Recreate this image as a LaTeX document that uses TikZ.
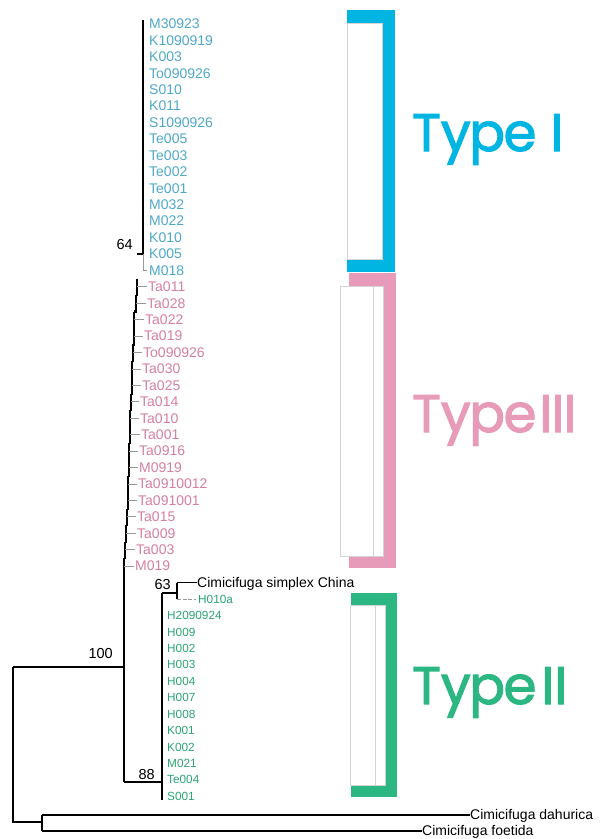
\documentclass[tikz,border=0pt]{standalone}
\usepackage{fontspec}
\setmainfont{Liberation Sans}
\newfontfamily\typefont[FakeBold=2]{Poppins}
\definecolor{tIcol}{RGB}{0,181,226}
\definecolor{tIIIcol}{RGB}{232,155,184}
\definecolor{tIIcol}{RGB}{44,183,130}
\definecolor{tIlab}{RGB}{78,168,200}
\definecolor{tIIIlab}{RGB}{214,126,163}
\definecolor{tIIlab}{RGB}{44,165,115}
\definecolor{boxline}{RGB}{212,212,212}
\newcommand{\typeword}{Ty\kern-1.5pt p\kern-1.5pt e}
\tikzset{
  branch/.style={line width=1.7pt, black},
  spine/.style={line width=2.6pt, black},
  stub/.style={line width=0.9pt, black!40},
  taxon/.style={anchor=base west, inner sep=0pt, font=\fontsize{14}{15}\selectfont},
  gtaxon/.style={anchor=base west, inner sep=0pt, font=\fontsize{11.8}{12}\selectfont, text=tIIlab},
  support/.style={anchor=base east, inner sep=0pt, font=\fontsize{14.5}{15}\selectfont},
  typelabel/.style={anchor=base west, inner sep=0pt, font=\typefont\fontsize{53}{54}\selectfont},
  innerbox/.style={fill=white, draw=boxline, line width=0.7pt},
}
\begin{document}
\begin{tikzpicture}[x=1pt, y=-1pt]
\useasboundingbox (0,0) rectangle (602,839);

% ---- clade brackets ----
\fill[tIcol] (347,10) rectangle (395,272);
\draw[innerbox] (347,23) rectangle (382,259);
\fill[tIIIcol] (349,273) rectangle (396,568);
\draw[innerbox] (340,286) rectangle (373,556);
\draw[innerbox] (373,286) rectangle (383,556);
\fill[tIIcol] (351,593) rectangle (397,797);
\draw[innerbox] (350,605) rectangle (375,785);
\draw[innerbox] (375,605) rectangle (385,785);

\node[typelabel, text=tIcol] (typeI) at (412,151) {\typeword\kern14pt I};
\node[typelabel, text=tIIIcol] (typeIII) at (412,432) {\typeword\kern3pt I\kern-1pt I\kern-1pt I};
\node[typelabel, text=tIIcol] (typeII) at (412,704) {\typeword\kern5pt I\kern0pt I};

% ---- Type I clade: zero-length branches on one vertical ----
\coordinate (bTop) at (143,20);
\coordinate (n64) at (143,254);
\coordinate (n64b) at (143,237);
\draw[branch] (bTop) -- (n64);
\draw[spine] (n64b) -- (n64);
\foreach \name [count=\i from 0] in {M30923,K1090919,K003,To090926,S010,K011,S1090926,Te005,Te003,Te002,Te001,M032,M022,K010,K005,M018}{
  \node[taxon, text=tIlab] (b\i) at (149,{24+16.43*\i+4.8}) {\name};
}
\coordinate (m018a) at (143,270.5);
\coordinate (m018b) at (147,270.5);
\draw[stub] (n64) -- (m018a) -- (m018b);
\node[support] (s64) at (133,249) {64};

% ---- Type III clade: ladder with short branches ----
\coordinate (sp0) at (137,254);
\draw[branch] (n64) -- (sp0);
\foreach \name/\sx/\nx/\lx [count=\i from 16] in {
  Ta011/137/136/148, Ta028/136/134/147, Ta022/134/134/145, Ta019/134/133/144,
  To090926/133/132/143, Ta030/132/132/142, Ta025/132/131/142, Ta014/131/130/140,
  Ta010/130/130/140, Ta001/130/129/141, Ta0916/129/129/139, M0919/129/128/139,
  Ta0910012/128/128/138, Ta091001/128/127/138, Ta015/127/126/137, Ta009/126/125/137,
  Ta003/125/124/136, M019/124/124/135}{
  \pgfmathsetmacro{\yc}{24+16.43*\i}
  \coordinate (st\i) at (\sx,\yc-8.2);
  \coordinate (sb\i) at (\sx,\yc+8.2);
  \coordinate (sn\i) at (\nx,\yc+8.2);
  \coordinate (sa\i) at (\sx,\yc);
  \coordinate (se\i) at (\lx-1.5,\yc);
  \draw[spine] (st\i) -- (sb\i) -- (sn\i);
  \draw[stub] (sa\i) -- (se\i);
  \node[taxon, text=tIIIlab] (p\i) at (\lx,\yc+4.8) {\name};
}

% ---- backbone and support values ----
\coordinate (n100) at (124,667);
\coordinate (n88) at (124,782);
\coordinate (root) at (13,667);
\coordinate (rootb) at (13,822);
\coordinate (og) at (42,822);
\coordinate (ogA) at (42,815);
\coordinate (ogB) at (42,831);
\draw[branch] (sb33) -- (n88);
\draw[branch] (root) -- (n100);
\draw[branch] (root) -- (rootb) -- (og);
\draw[branch] (ogA) -- (ogB);
\node[support] (s100) at (113,658) {100};

% ---- outgroups ----
\node[taxon] (dah) at (470,{815+4.8}) {Cimicifuga dahurica};
\node[taxon] (foe) at (422,{831+4.8}) {Cimicifuga foetida};
\draw[branch] (ogA) -- (dah.west |- ogA);
\draw[branch] (ogB) -- (foe.west |- ogB);

% ---- Type II clade ----
\coordinate (g88) at (162,782);
\coordinate (gTop) at (162,593);
\coordinate (gBot) at (162,800);
\draw[branch] (n88) -- (g88);
\draw[branch] (gTop) -- (gBot);
\node[support] (s88) at (155,779) {88};
\node[support] (s63) at (171,589) {63};
\coordinate (n63) at (177,593);
\coordinate (n63a) at (177,582.6);
\coordinate (n63b) at (177,599);
\draw[branch] (gTop) -- (n63);
\draw[branch] (n63a) -- (n63b);
\node[taxon] (chn) at (197,{582.6+4.8}) {Cimicifuga simplex China};
\draw[branch] (n63a) -- (chn.west |- n63a);
\node[gtaxon] (h010a) at (198,{599+4.2}) {H010a};
\coordinate (h010e) at (196,599);
\draw[stub, dashed, dash pattern=on 4pt off 1.5pt] (n63b) -- (h010e);
\foreach \name [count=\i from 36] in {H2090924,H009,H002,H003,H004,H007,H008,K001,K002,M021,Te004,S001}{
  \node[gtaxon] (g\i) at (167,{24+16.43*\i+4.2}) {\name};
}
\end{tikzpicture}
\end{document}
